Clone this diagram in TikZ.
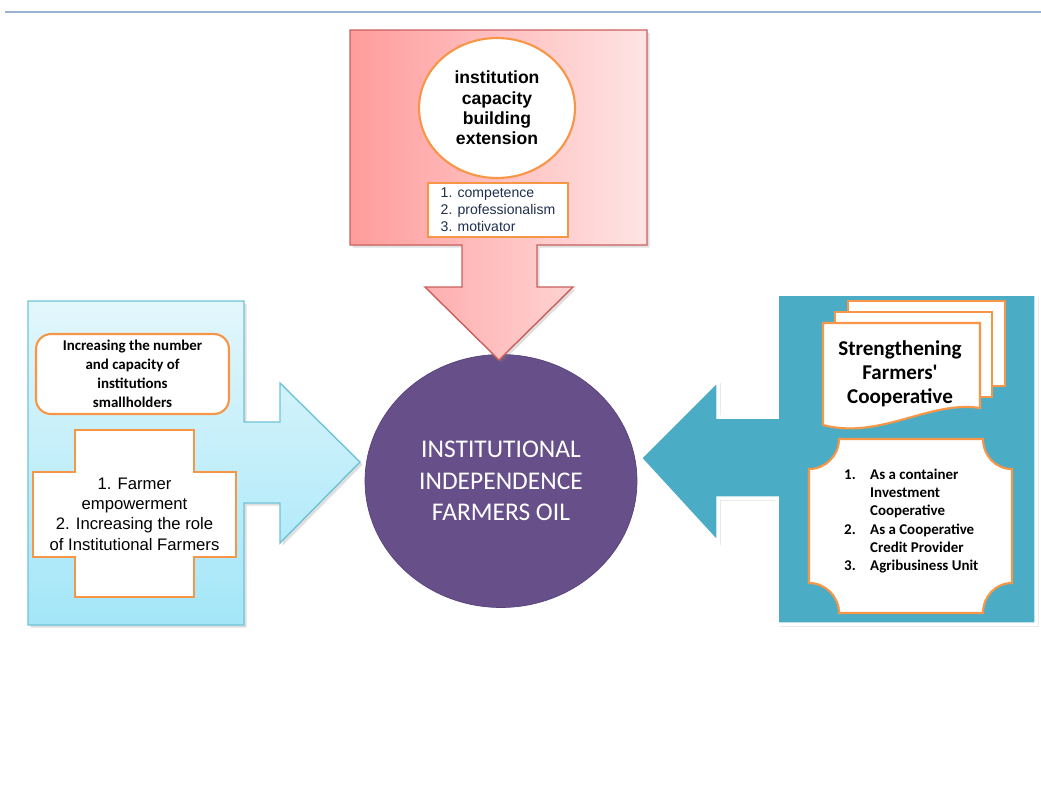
\documentclass[tikz,border=0pt]{standalone}
\usepackage{fontspec}
\setmainfont{Liberation Sans}
\newfontfamily\calibri{Carlito}
\usepackage{tikz}
\usetikzlibrary{shapes.geometric}
\usetikzlibrary{shadows}
\usetikzlibrary{positioning}

\definecolor{redline}{HTML}{C9605D}
\definecolor{redleft}{HTML}{FF9C9C}
\definecolor{redright}{HTML}{FFE4E4}
\definecolor{cyantop}{HTML}{E2F7FC}
\definecolor{cyanbot}{HTML}{A3E6F8}
\definecolor{cyanline}{HTML}{6FC3D8}
\definecolor{tealblue}{HTML}{4BACC6}
\definecolor{plum}{HTML}{67508A}
\definecolor{plumline}{HTML}{58437A}
\definecolor{boxorange}{HTML}{F79646}
\definecolor{rulegray}{HTML}{9AB2D2}
\definecolor{listblue}{HTML}{1F2F4F}

\begin{document}
\begin{tikzpicture}[x=0.02cm,y=-0.02cm,
		orange box/.style={draw=boxorange,line width=1.2pt,fill=white},
		panel shadow/.style={drop shadow={opacity=0.25,shadow xshift=1.5pt,shadow yshift=-1.5pt}}]
		
		\useasboundingbox (0,0) rectangle (1041,789);
		\draw[rulegray,line width=1.5pt] (5,12) -- (1041,12);
		
		% centre
		\node[ellipse,draw=plumline,fill=plum,minimum width=5.44cm,minimum height=5.06cm,
		inner sep=0pt,text=white,align=center,
		font={\calibri\fontsize{14.5}{18}\selectfont}] (core) at (501,481)
		{INSTITUTIONAL\\INDEPENDENCE\\FARMERS OIL};
		
		% top callout
		\path[draw=redline,line width=0.8pt,left color=redleft,right color=redright,panel shadow]
		(350,30) -- (647,30) -- (647,245) -- (537,245) -- (537,287) -- (573,287) -- (499,360)
		-- (425,287) -- (462,287) -- (462,245) -- (350,245) -- cycle;
		\node[ellipse,orange box,minimum width=3.12cm,minimum height=2.8cm,inner sep=0pt,
		align=center,font={\bfseries\fontsize{10}{11.5}\selectfont}] (ext) at (497,108)
		{institution\\capacity\\building\\extension};
		\node[orange box,minimum width=2.8cm,minimum height=1.08cm,inner sep=0pt,align=left,
		text=listblue,font={\fontsize{8}{9.6}\selectfont}] (comp) at (498,210)
		{1. competence\\2. professionalism\\3. motivator};
		
		% left callout
		\path[draw=cyanline,line width=0.8pt,top color=cyantop,bottom color=cyanbot,panel shadow]
		(28,301) -- (244,301) -- (244,422) -- (280,422) -- (280,383) -- (360,462) -- (280,543)
		-- (280,503) -- (244,503) -- (244,625) -- (28,625) -- cycle;
		\node[orange box,rounded corners=0.3cm,minimum width=3.86cm,minimum height=1.6cm,
		inner sep=0pt,align=center,font={\calibri\bfseries\fontsize{8.5}{10.8}\selectfont}]
		(incr) at (132.5,374) {Increasing the number\\and capacity of\\institutions\\smallholders};
		\draw[orange box] (75,430) -- (194,430) -- (194,472) -- (236,472) -- (236,557) -- (194,557)
		-- (194,597) -- (75,597) -- (75,557) -- (33,557) -- (33,472) -- (75,472) -- cycle;
		\node[align=center,font={\fontsize{9.5}{11.6}\selectfont}] (emp) at (134.5,514)
		{1. Farmer\\empowerment\\2. Increasing the role\\of Institutional Farmers};
		
		% right callout
		\path[draw=white,line width=2pt,fill=tealblue,panel shadow]
		(777,294) -- (1036,294) -- (1036,624) -- (777,624) -- (777,498) -- (718,498) -- (718,543)
		-- (640,458) -- (718,380) -- (718,417) -- (777,417) -- cycle;
		\foreach \dx/\dy in {25/-22,12/-11}
		\draw[orange box] ({823+\dx},{323+\dy}) rectangle ({980+\dx},{408+\dy});
		\draw[orange box] (823,323) -- (980,323) -- (980,408)
		.. controls (930,400) and (880,440) .. (823,425) -- cycle;
		\node[align=center,font={\calibri\bfseries\fontsize{12}{13.6}\selectfont}] (coop)
		at (900,374) {Strengthening\\Farmers\textquotesingle\\Cooperative};
		\draw[orange box] (839,439) -- (983,439) .. controls (983,455.5) and (995.5,469) .. (1012,469)
		-- (1012,583) .. controls (995.5,583) and (983,596.5) .. (983,613)
		-- (839,613) .. controls (839,596.5) and (825.5,583) .. (809,583)
		-- (809,469) .. controls (825.5,469) and (839,455.5) .. (839,439) -- cycle;
		\node[anchor=west,align=left,font={\calibri\bfseries\fontsize{8.5}{10.3}\selectfont}] (plist)
		at (838,521)
		{\makebox[0.52cm][l]{1.}As a container\\\hspace*{0.52cm}Investment\\\hspace*{0.52cm}Cooperative\\
			\makebox[0.52cm][l]{2.}As a Cooperative\\\hspace*{0.52cm}Credit Provider\\
			\makebox[0.52cm][l]{3.}Agribusiness Unit};
		\end{tikzpicture}
\end{document}
